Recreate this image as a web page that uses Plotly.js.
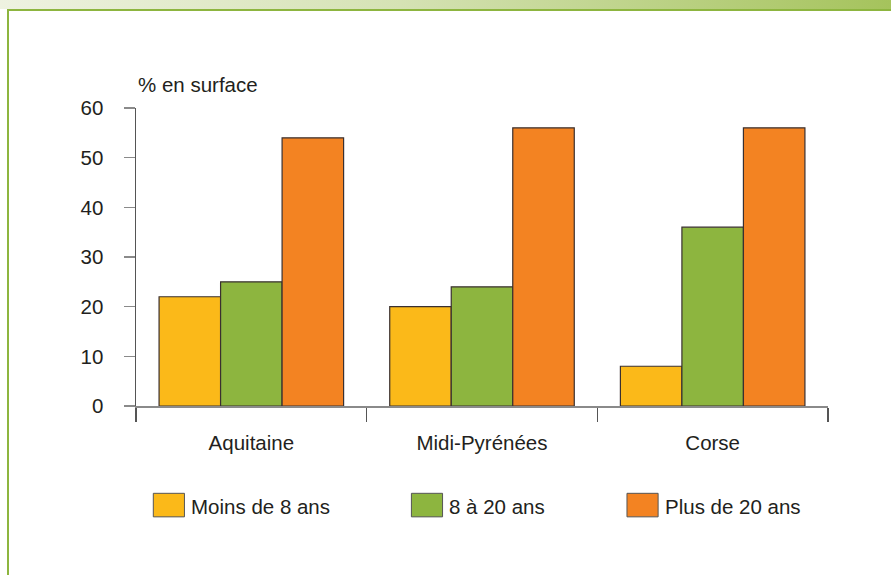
<!DOCTYPE html>
<html>
<head>
<meta charset="utf-8">
<script src="https://cdn.plot.ly/plotly-3.0.1.min.js"></script>
<style>
  html, body { margin: 0; padding: 0; background: #ffffff; }
  #wrap { position: relative; width: 891px; height: 575px; overflow: hidden; }
  #band { position: absolute; left: 0; top: 0; width: 891px; height: 9px;
          background: linear-gradient(to right, #eef2e1, #d5e2b4 45%, #a5c35c); }
  #hline { position: absolute; left: 7px; top: 9px; width: 884px; height: 2px; background: #8db53f; }
  #vline { position: absolute; left: 7px; top: 9px; width: 2px; height: 566px; background: #8db53f; }
  #chart { position: absolute; left: 0; top: 0; width: 891px; height: 575px; }
</style>
</head>
<body>
<div id="wrap">
  <div id="band"></div>
  <div id="hline"></div>
  <div id="vline"></div>
  <div id="chart"></div>
</div>
<script>
const categories = ["Aquitaine", "Midi-Pyrénées", "Corse"];
const seriesNames = ["Moins de 8 ans", "8 à 20 ans", "Plus de 20 ans"];
const moinsDe8 = [22, 20, 8];
const de8a20 = [25, 24, 36];
const plusDe20 = [54, 56, 56];
const seriesValues = [moinsDe8, de8a20, plusDe20];
const seriesColors = ["#fbb919", "#8db53f", "#f38322"];
const yTicks = [0, 10, 20, 30, 40, 50, 60];
const yAxisLabel = "% en surface";

const font = { family: "Liberation Sans, Arial, sans-serif", size: 20.5, color: "#231f20" };

const traces = seriesNames.map((name, i) => ({
  type: "bar",
  name: name,
  x: categories,
  y: seriesValues[i],
  marker: { color: seriesColors[i], line: { color: "#3a3030", width: 1.2 } },
  showlegend: false,
  hoverinfo: "x+y+name"
}));

// custom legend (large squares)
const legendX = [0.025, 0.398, 0.7095];
const shapes = [];
const annotations = [];
seriesNames.forEach((name, i) => {
  shapes.push({
    type: "rect", xref: "paper", yref: "paper",
    x0: legendX[i], x1: legendX[i] + 0.045,
    y0: -0.372, y1: -0.293,
    fillcolor: seriesColors[i],
    line: { color: "#555555", width: 1 }
  });
  annotations.push({
    xref: "paper", yref: "paper",
    x: legendX[i] + 0.052, y: -0.337,
    xanchor: "left", yanchor: "middle",
    text: name, showarrow: false, font: font
  });
});
annotations.push({
  xref: "paper", yref: "paper",
  x: 0.0, y: 1.035, xanchor: "left", yanchor: "bottom",
  text: yAxisLabel, showarrow: false, font: font
});

const layout = {
  width: 891, height: 575,
  margin: { l: 136, r: 63, t: 108, b: 169 },
  paper_bgcolor: "rgba(0,0,0,0)",
  plot_bgcolor: "rgba(0,0,0,0)",
  barmode: "group",
  bargap: 0.2,
  bargroupgap: 0,
  font: font,
  xaxis: {
    type: "category",
    showgrid: false, zeroline: false,
    showline: true, linecolor: "#8a8a8a", linewidth: 1.5,
    ticks: "outside", tickson: "boundaries", ticklen: 14, tickcolor: "#555555", tickwidth: 1.5,
    ticklabelstandoff: 18,
    tickfont: font,
    fixedrange: true
  },
  yaxis: {
    range: [0, 60],
    tickvals: yTicks,
    ticktext: yTicks.map(String),
    showgrid: false, zeroline: false,
    showline: true, linecolor: "#555555", linewidth: 1.5,
    ticks: "outside", ticklen: 11, tickcolor: "#8a8a8a", tickwidth: 1.5,
    ticklabelstandoff: 16,
    tickfont: font,
    fixedrange: true
  },
  shapes: shapes,
  annotations: annotations,
  showlegend: false
};

Plotly.newPlot("chart", traces, layout, { displayModeBar: false, staticPlot: true });
</script>
</body>
</html>
